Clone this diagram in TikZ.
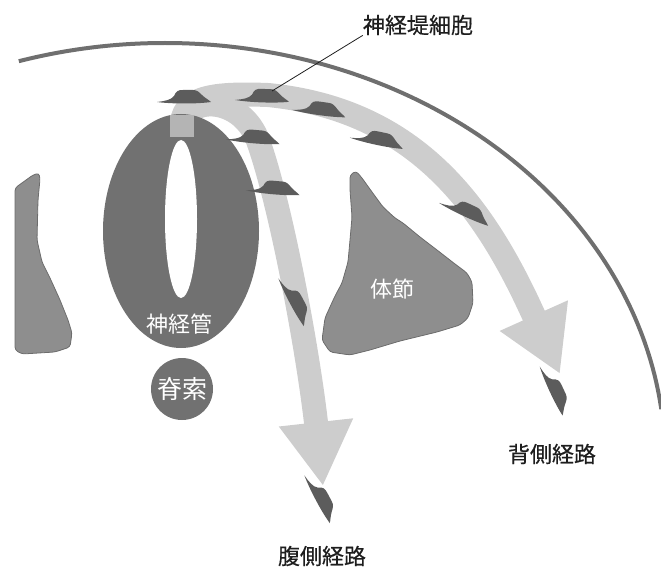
\documentclass[tikz,border=0pt]{standalone}
\usepackage{fontspec}
\setmainfont{Noto Sans CJK JP}[FakeBold=0.5]
\newfontfamily\lightcjk{Noto Sans CJK JP}
\usetikzlibrary{positioning,arrows.meta}
\definecolor{embWall}{HTML}{6F6F6F}
\definecolor{embTube}{HTML}{717171}
\definecolor{embRoof}{HTML}{B4B4B4}
\definecolor{embSomite}{HTML}{8E8E8E}
\definecolor{embSomiteLine}{HTML}{6C6C6C}
\definecolor{embPath}{HTML}{CDCDCD}
\definecolor{embCell}{HTML}{5C5C5C}
\definecolor{embText}{HTML}{1E1E1E}

\tikzset{
  crest/.pic={
    \fill[embCell] (-30,4) .. controls (-22,3) and (-16,2) .. (-13,-2)
      .. controls (-11,-7) and (-9,-8) .. (-4,-8) -- (6,-8)
      .. controls (10,-8) and (12,-6) .. (15,-3)
      .. controls (18,0) and (22,2) .. (24,4)
      .. controls (10,6) and (-15,6) .. cycle;
  },
  route/.style={embPath, line width=24pt, -{Triangle[width=70pt,length=64pt]}},
  lblDark/.style={font=\fontsize{22}{26}\selectfont, text=embText, inner sep=0pt},
  lblLight/.style={font=\lightcjk\fontsize{22}{26}\selectfont, text=white, inner sep=0pt},
}

\begin{document}
\begin{tikzpicture}[x=1pt,y=-1pt]

\useasboundingbox (0,0) rectangle (661,567);

% --- MIGRATION ROUTES (drawn first, under everything) ---
\draw[route] (182,128) .. controls (184,96) and (238,94) .. (257,138)
  .. controls (280,200) and (308,350) .. (323,486);
\draw[route] (182,128) .. controls (180,96) and (215,93) .. (268,95)
  .. controls (418,110) and (486,209) .. (560,374);

% --- BODY WALL ---
\coordinate (wallC) at (165,460);
\draw[embWall, line width=4pt] (wallC) ++(-107:500 and 417)
  arc[start angle=-107, end angle=-7, x radius=500, y radius=417];

% --- NEURAL TUBE + lumen + roof plate ---
\fill[embTube] (181,231) ellipse[x radius=78, y radius=117];
\fill[white] (181,219) ellipse[x radius=16, y radius=79];
\fill[embRoof] (170,115) rectangle (194,137);
\node[lblLight] (tubeLbl) at (179,324) {神経管};

% --- NOTOCHORD ---
\node[circle, fill=embTube, minimum size=62pt, inner sep=0pt,
      font=\lightcjk\fontsize{25}{28}\selectfont, text=white] (noto) at (182,389) {脊索};

% --- SOMITES ---
\filldraw[fill=embSomite, draw=embSomiteLine, line width=0.8pt, rounded corners=3pt]
  (15,188) -- (33,175) -- (39,173) -- (40,179) -- (38,200) -- (37,240)
  -- (42,262) -- (50,278) -- (60,300) -- (68,320) -- (72,333) -- (70,347)
  -- (55,352) -- (22,354) -- (15,350) -- cycle;
\filldraw[fill=embSomite, draw=embSomiteLine, line width=0.8pt, rounded corners=3pt]
  (350,175) -- (356,171) -- (362,178) -- (372,192) -- (383,207) -- (395,218)
  -- (403,223) -- (420,237) -- (437,250) -- (455,264) -- (467,273) -- (472,282)
  -- (473,303) -- (468,318) -- (460,325) -- (437,332) -- (400,341) -- (370,350)
  -- (350,355) -- (330,352) -- (322,340) -- (325,318) -- (335,296) -- (342,283)
  -- (348,262) -- (350,240) -- (352,217) -- (350,190) -- cycle;
\node[lblLight] (somLbl) at (392,289) {体節};

% --- NEURAL CREST CELLS (x / y / tilt) ---
\foreach \cx/\cy/\ang in {187/98/0, 265/97/-2, 322/110/-8, 380/140/-12,
                          468/212/-25, 256/138/-5, 276/189/-5,
                          296/303/-62, 322/500/-62, 556/392/-65} {
  \pic[rotate=\ang] at (\cx,\cy) {crest};
}
\coordinate (crestTip) at (272,91);

% --- LABELS ---
\node[lblDark] (crestLbl) at (418,25) {神経堤細胞};
\node[lblDark] (dorsLbl) at (552,454) {背側経路};
\node[lblDark] (ventLbl) at (322,556) {腹側経路};

\draw[embText, line width=0.8pt] (crestLbl.south west) -- (crestTip);

\end{tikzpicture}
\end{document}
